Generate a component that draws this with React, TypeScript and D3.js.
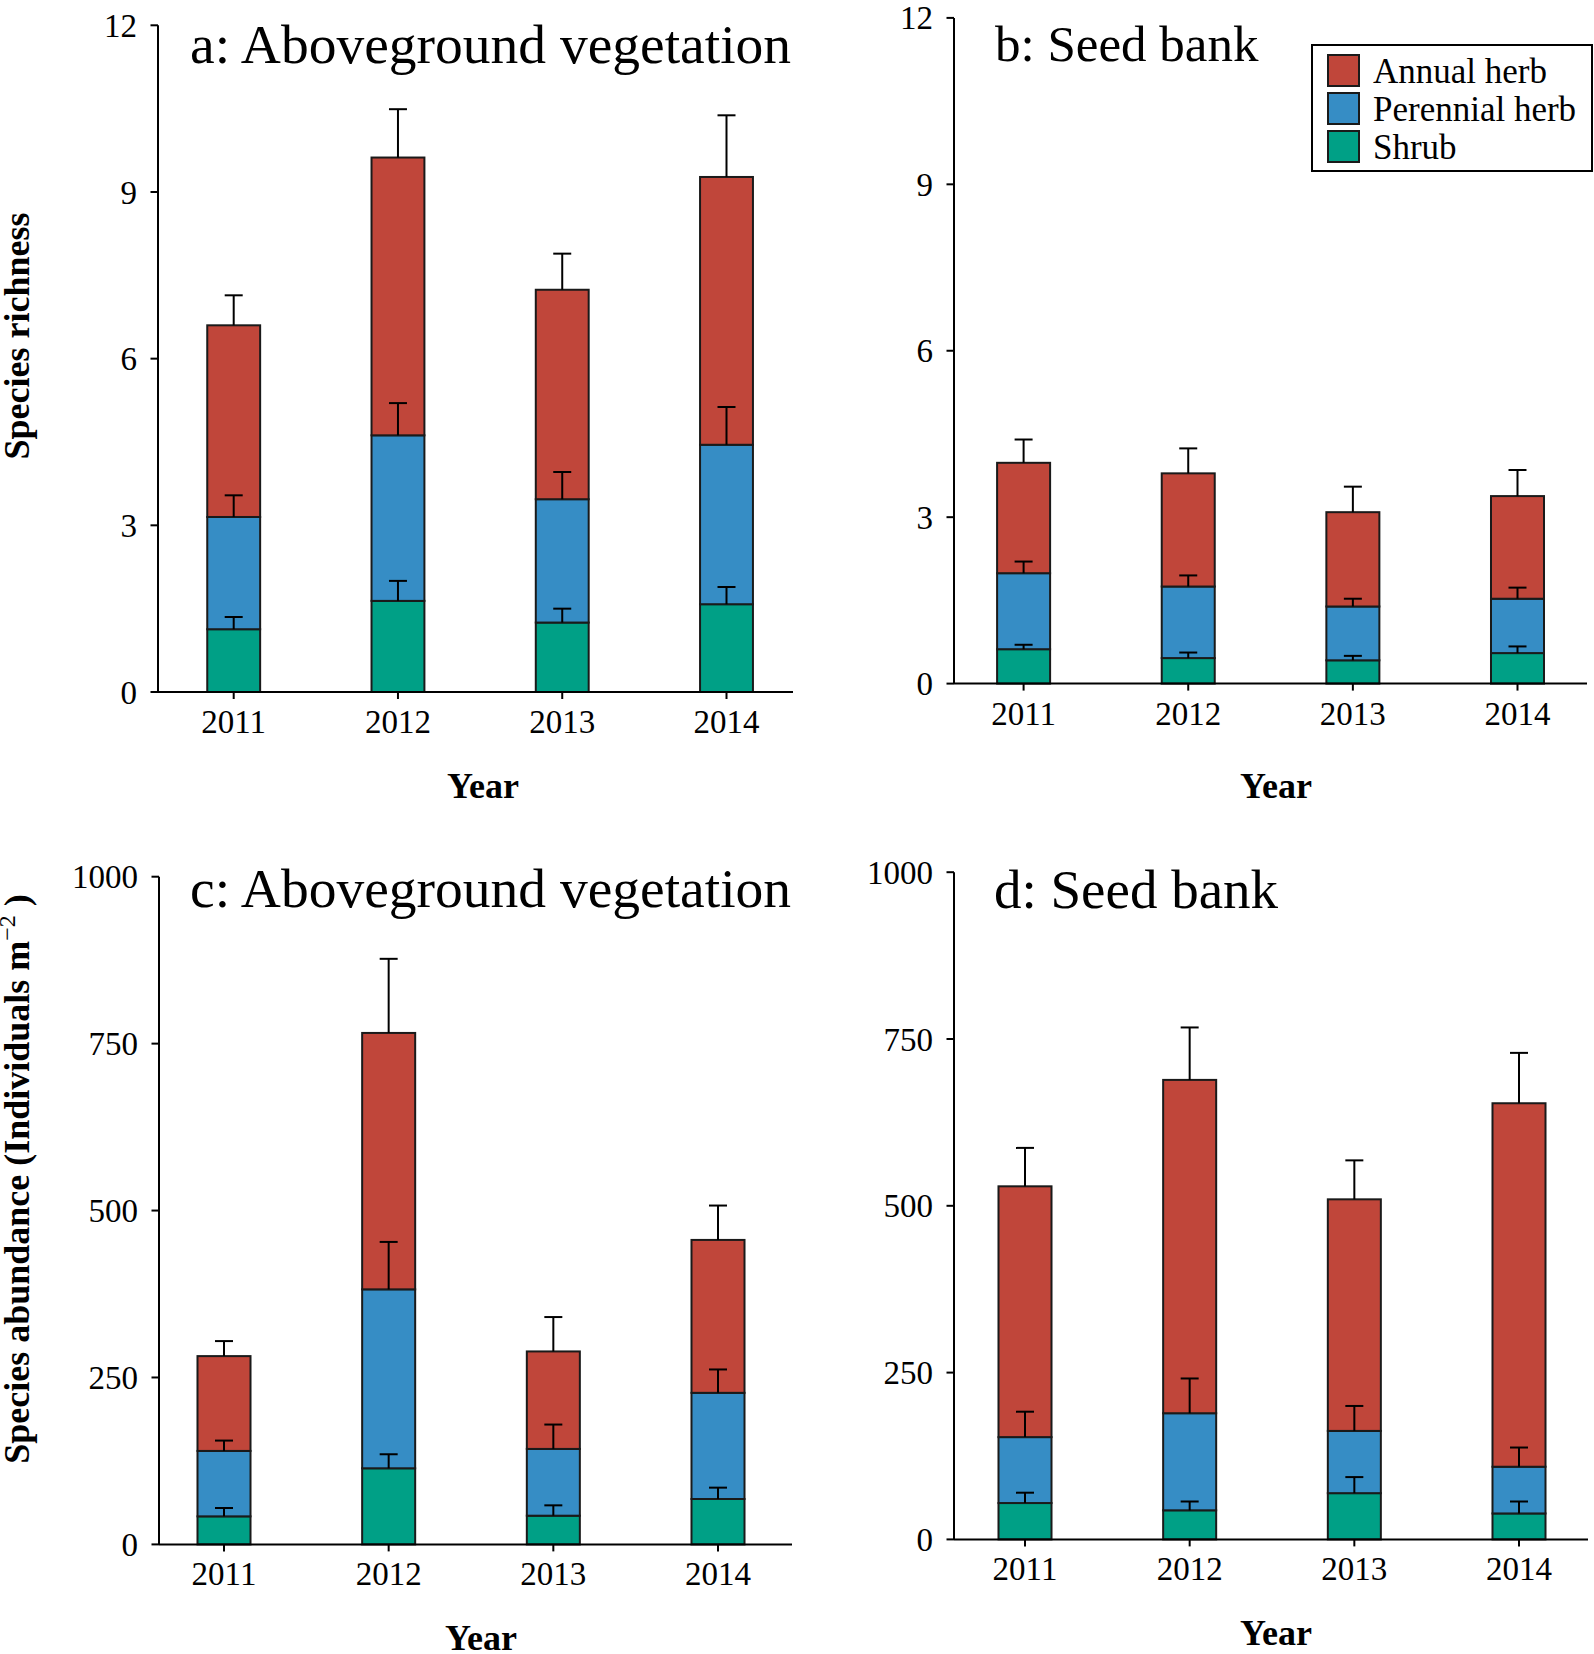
import React from 'react';
import * as d3 from 'd3';

// ---------- data ----------
const years = [2011, 2012, 2013, 2014];
const stackKeys = ['Shrub', 'Perennial herb', 'Annual herb'];
const legendKeys = ['Annual herb', 'Perennial herb', 'Shrub'];
const richnessTicks = [0, 3, 6, 9, 12];
const abundanceTicks = [0, 250, 500, 750, 1000];

// a: Aboveground vegetation – species richness (segment values)
const aShrub = [1.13, 1.64, 1.25, 1.58];
const aPerennial = [2.02, 2.98, 2.22, 2.87];
const aAnnual = [3.45, 5.0, 3.77, 4.82];
const aShrubSE = [0.22, 0.36, 0.25, 0.31];
const aPerennialSE = [0.39, 0.58, 0.49, 0.68];
const aAnnualSE = [0.54, 0.87, 0.65, 1.11];

// b: Seed bank – species richness
const bShrub = [0.62, 0.46, 0.42, 0.55];
const bPerennial = [1.37, 1.29, 0.97, 0.98];
const bAnnual = [1.99, 2.04, 1.7, 1.85];
const bShrubSE = [0.08, 0.1, 0.08, 0.12];
const bPerennialSE = [0.21, 0.2, 0.14, 0.2];
const bAnnualSE = [0.42, 0.45, 0.46, 0.47];

// c: Aboveground vegetation – abundance
const cShrub = [42, 114, 43, 68];
const cPerennial = [98, 268, 100, 159];
const cAnnual = [142, 384, 146, 229];
const cShrubSE = [12.5, 21, 15.5, 17];
const cPerennialSE = [15.5, 71, 36.5, 35];
const cAnnualSE = [22.5, 111, 51.5, 51.5];

// d: Seed bank – abundance
const dShrub = [54.5, 43.6, 69.3, 38.9];
const dPerennial = [98.8, 145.5, 93.3, 70.0];
const dAnnual = [375.9, 499.6, 347.1, 544.8];
const dShrubSE = [15.5, 13.2, 24.1, 17.9];
const dPerennialSE = [38.1, 52.1, 37.4, 28.8];
const dAnnualSE = [57.6, 78.6, 58.4, 75.5];

// ---------- styles ----------
const colors: Record<string, string> = {
  'Annual herb': '#C0463A',
  'Perennial herb': '#368DC5',
  'Shrub': '#00A086',
};
const FONT = '"Liberation Serif", "Times New Roman", serif';
const TICK_FONT = 33;

function buildRows(shrub: number[], per: number[], ann: number[]) {
  return years.map((y, i) => ({
    year: y,
    'Shrub': shrub[i],
    'Perennial herb': per[i],
    'Annual herb': ann[i],
  }));
}

type PanelProps = {
  rows: any[];
  se: Record<string, number[]>;
  ticks: number[];
  yMax: number;
  title: string;
  layout: {
    axisX: number; axisEnd: number; x2011: number; x2014: number;
    y0: number; yTop: number; titleX: number; titleY: number; titleSize: number;
    xLabelX: number; xLabelY: number;
  };
};

function Panel({ rows, se, ticks, yMax, title, layout }: PanelProps) {
  const L = layout;
  const x = d3.scaleLinear().domain([2011, 2014]).range([L.x2011, L.x2014]);
  const y = d3.scaleLinear().domain([0, yMax]).range([L.y0, L.yTop]);
  const stack = d3.stack<any>().keys(stackKeys);
  const series = stack(rows);
  const bw = (x(2012) - x(2011)) * 0.322;
  const cap = 9;

  return (
    <g>
      {series.map((s) => (
        <g key={s.key}>
          {s.map((d, i) => (
            <rect
              key={i}
              x={x(years[i]) - bw / 2}
              y={y(d[1])}
              width={bw}
              height={y(d[0]) - y(d[1])}
              fill={colors[s.key]}
              stroke="#1a1a1a"
              strokeWidth={2}
            />
          ))}
        </g>
      ))}
      {series.map((s) => (
        <g key={'e' + s.key}>
          {s.map((d, i) => {
            const cx = x(years[i]);
            const top = y(d[1] + se[s.key][i]);
            return (
              <g key={i} stroke="#000" strokeWidth={2}>
                <line x1={cx} x2={cx} y1={y(d[1])} y2={top} />
                <line x1={cx - cap} x2={cx + cap} y1={top} y2={top} />
              </g>
            );
          })}
        </g>
      ))}
      {/* y axis */}
      <line x1={L.axisX} x2={L.axisX} y1={L.y0} y2={y(yMax)} stroke="#000" strokeWidth={2} />
      {ticks.map((t) => (
        <g key={t}>
          <line x1={L.axisX - 7.5} x2={L.axisX} y1={y(t)} y2={y(t)} stroke="#000" strokeWidth={2} />
          <text
            x={L.axisX - 21}
            y={y(t)}
            dy="0.35em"
            textAnchor="end"
            fontFamily={FONT}
            fontSize={TICK_FONT}
          >
            {t}
          </text>
        </g>
      ))}
      {/* x axis */}
      <line x1={L.axisX} x2={L.axisEnd} y1={L.y0} y2={L.y0} stroke="#000" strokeWidth={2} />
      {years.map((yr) => (
        <g key={yr}>
          <line x1={x(yr)} x2={x(yr)} y1={L.y0} y2={L.y0 + 7} stroke="#000" strokeWidth={2} />
          <text x={x(yr)} y={L.y0 + 41} textAnchor="middle" fontFamily={FONT} fontSize={TICK_FONT}>
            {yr}
          </text>
        </g>
      ))}
      <text x={L.xLabelX} y={L.xLabelY} textAnchor="middle" fontFamily={FONT} fontSize={36} fontWeight="bold">
        Year
      </text>
      <text x={L.titleX} y={L.titleY} fontFamily={FONT} fontSize={L.titleSize}>
        {title}
      </text>
    </g>
  );
}

function Legend() {
  const bx = 1312, by = 45, bwid = 280, bh = 126;
  return (
    <g>
      <rect x={bx} y={by} width={bwid} height={bh} fill="#fff" stroke="#000" strokeWidth={2} />
      {legendKeys.map((k, i) => (
        <g key={k}>
          <rect x={1328} y={55 + i * 38} width={31} height={31} fill={colors[k]} stroke="#1a1a1a" strokeWidth={2} />
          <text x={1373} y={83 + i * 38} fontFamily={FONT} fontSize={35}>
            {k}
          </text>
        </g>
      ))}
    </g>
  );
}

export default function App() {
  const rowsA = buildRows(aShrub, aPerennial, aAnnual);
  const rowsB = buildRows(bShrub, bPerennial, bAnnual);
  const rowsC = buildRows(cShrub, cPerennial, cAnnual);
  const rowsD = buildRows(dShrub, dPerennial, dAnnual);
  const seA = { 'Shrub': aShrubSE, 'Perennial herb': aPerennialSE, 'Annual herb': aAnnualSE };
  const seB = { 'Shrub': bShrubSE, 'Perennial herb': bPerennialSE, 'Annual herb': bAnnualSE };
  const seC = { 'Shrub': cShrubSE, 'Perennial herb': cPerennialSE, 'Annual herb': cAnnualSE };
  const seD = { 'Shrub': dShrubSE, 'Perennial herb': dPerennialSE, 'Annual herb': dAnnualSE };

  return (
    <svg
      width={1594}
      height={1654}
      style={{ position: 'absolute', left: 0, top: 0, background: '#fff' }}
    >
      <rect width={1594} height={1654} fill="#fff" />
      <Panel
        rows={rowsA}
        se={seA}
        ticks={richnessTicks}
        yMax={12}
        title="a: Aboveground vegetation"
        layout={{ axisX: 158, axisEnd: 793, x2011: 233.7, x2014: 726.5, y0: 692, yTop: 25.3,
          titleX: 190, titleY: 63, titleSize: 55.5, xLabelX: 483, xLabelY: 798 }}
      />
      <Panel
        rows={rowsB}
        se={seB}
        ticks={richnessTicks}
        yMax={12}
        title="b: Seed bank"
        layout={{ axisX: 954, axisEnd: 1587, x2011: 1023.6, x2014: 1517.5, y0: 683.6, yTop: 17.9,
          titleX: 995, titleY: 61, titleSize: 51, xLabelX: 1276, xLabelY: 798 }}
      />
      <Panel
        rows={rowsC}
        se={seC}
        ticks={abundanceTicks}
        yMax={1000}
        title="c: Aboveground vegetation"
        layout={{ axisX: 159, axisEnd: 792, x2011: 224, x2014: 718, y0: 1544.4, yTop: 876.7,
          titleX: 190, titleY: 907, titleSize: 55.5, xLabelX: 481, xLabelY: 1650 }}
      />
      <Panel
        rows={rowsD}
        se={seD}
        ticks={abundanceTicks}
        yMax={1000}
        title="d: Seed bank"
        layout={{ axisX: 954, axisEnd: 1588, x2011: 1025, x2014: 1519, y0: 1539.4, yTop: 872.2,
          titleX: 994, titleY: 908, titleSize: 55, xLabelX: 1276, xLabelY: 1645 }}
      />
      <Legend />
      <text
        transform="translate(29,336) rotate(-90)"
        textAnchor="middle"
        fontFamily={FONT}
        fontSize={36}
        fontWeight="bold"
      >
        Species richness
      </text>
      <text
        transform="translate(29,1179) rotate(-90)"
        textAnchor="middle"
        fontFamily={FONT}
        fontSize={36}
        fontWeight="bold"
      >
        Species abundance (Individuals m
        <tspan dy={-14} fontSize={24} fontWeight="normal">−2</tspan>
        <tspan dy={14}> )</tspan>
      </text>
    </svg>
  );
}
